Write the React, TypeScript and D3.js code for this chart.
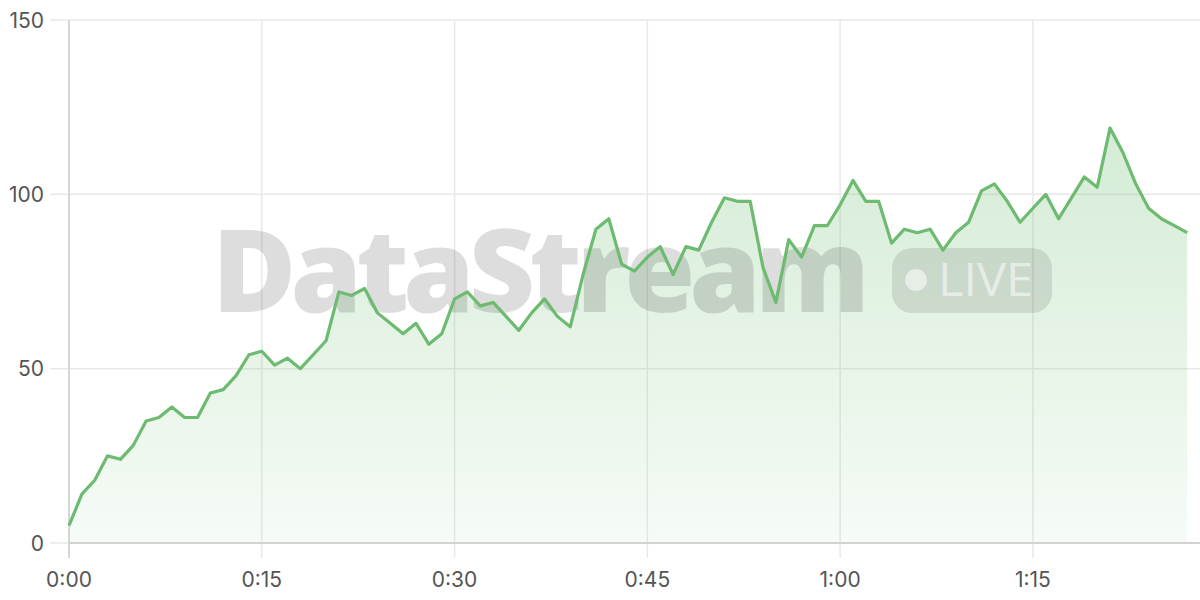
import React from "react";
import * as d3 from "d3";

const seconds: number[] = Array.from({ length: 88 }, (_, i) => i);
const values: number[] = [
  5, 14, 18, 25, 24, 28, 35, 36, 39, 36,
  36, 43, 44, 48, 54, 55, 51, 53, 50, 54,
  58, 72, 71, 73, 66, 63, 60, 63, 57, 60,
  70, 72, 68, 69, 65, 61, 66, 70, 65, 62,
  77, 90, 93, 80, 78, 82, 85, 77, 85, 84,
  92, 99, 98, 98, 79, 69, 87, 82, 91, 91,
  97, 104, 98, 98, 86, 90, 89, 90, 84, 89,
  92, 101, 103, 98, 92, 96, 100, 93, 99, 105,
  102, 119, 112, 103, 96, 93, 91, 89,
];
const xTicks: number[] = [0, 15, 30, 45, 60, 75];
const xTickLabels: string[] = ["0:00", "0:15", "0:30", "0:45", "1:00", "1:15"];
const yTicks: number[] = [0, 50, 100, 150];
const yTickLabels: string[] = ["0", "50", "100", "150"];
const watermarkTitle = "DataStream";
const watermarkBadge = "LIVE";

const W = 1200;
const H = 600;
const left = 69;
const right = 1200;
const top = 20;
const bottom = 543;

export default function App() {
  const x = d3.scaleLinear().domain([0, 88]).range([left, right]);
  const y = d3.scaleLinear().domain([0, 150]).range([bottom, top]);
  const pts: [number, number][] = seconds.map((s, i) => [s, values[i]]);
  const line = d3
    .line<[number, number]>()
    .x((d) => x(d[0]))
    .y((d) => y(d[1]));
  const area = d3
    .area<[number, number]>()
    .x((d) => x(d[0]))
    .y0(y(0))
    .y1((d) => y(d[1]));
  const font = "Inter, 'Liberation Sans', Arial, sans-serif";

  return (
    <svg
      width={W}
      height={H}
      style={{ position: "absolute", left: 0, top: 0, background: "#fff" }}
    >
      <defs>
        <linearGradient id="areaGrad" x1="0" y1="0" x2="0" y2="1">
          <stop offset="0%" stopColor="#66bb6a" stopOpacity={0.28} />
          <stop offset="100%" stopColor="#66bb6a" stopOpacity={0.06} />
        </linearGradient>
      </defs>
      {/* horizontal grid */}
      {yTicks.map((t) => (
        <line
          key={"hg" + t}
          x1={50}
          x2={right}
          y1={y(t)}
          y2={y(t)}
          stroke="#e9e9e9"
          strokeWidth={1.5}
        />
      ))}
      {/* vertical grid */}
      {xTicks.map((t) => (
        <line
          key={"vg" + t}
          x1={x(t)}
          x2={x(t)}
          y1={top}
          y2={558}
          stroke={t === 0 ? "#d6d6d6" : "#e9e9e9"}
          strokeWidth={t === 0 ? 2 : 1.5}
        />
      ))}
      {/* area */}
      <path d={area(pts) || ""} fill="url(#areaGrad)" />
      {/* x axis baseline */}
      <line
        x1={left}
        x2={right}
        y1={y(0)}
        y2={y(0)}
        stroke="#d2d2d2"
        strokeWidth={2}
      />
      {/* watermark */}
      <g>
        <text
          x={212}
          y={312}
          fontFamily="'Open Sans', sans-serif"
          fontWeight={800}
          fontSize={115}
          fill="rgba(0,0,0,0.135)"
          textLength={658}
          lengthAdjust="spacing"
        >
          {watermarkTitle}
        </text>
        <rect
          x={892}
          y={248}
          width={160}
          height={65}
          rx={20}
          fill="rgba(0,0,0,0.1)"
        />
        <circle cx={916} cy={280} r={11} fill="rgba(255,255,255,0.55)" />
        <text
          x={938}
          y={296}
          fontFamily="'Open Sans', sans-serif"
          fontWeight={500}
          fontSize={46}
          fill="rgba(255,255,255,0.55)"
          textLength={95}
          lengthAdjust="spacingAndGlyphs"
        >
          {watermarkBadge}
        </text>
      </g>
      {/* line */}
      <path
        d={line(pts) || ""}
        fill="none"
        stroke="#6dba71"
        strokeWidth={3.2}
        strokeLinejoin="round"
      />
      {/* y labels */}
      {yTicks.map((t, i) => (
        <text
          key={"yl" + t}
          x={44}
          y={y(t)}
          dy="0.36em"
          textAnchor="end"
          fontFamily={font}
          fontSize={21}
          fill="#555"
        >
          {yTickLabels[i]}
        </text>
      ))}
      {/* x labels */}
      {xTicks.map((t, i) => (
        <text
          key={"xl" + t}
          x={x(t)}
          y={587}
          textAnchor="middle"
          fontFamily={font}
          fontSize={21}
          fill="#555"
        >
          {xTickLabels[i]}
        </text>
      ))}
    </svg>
  );
}
